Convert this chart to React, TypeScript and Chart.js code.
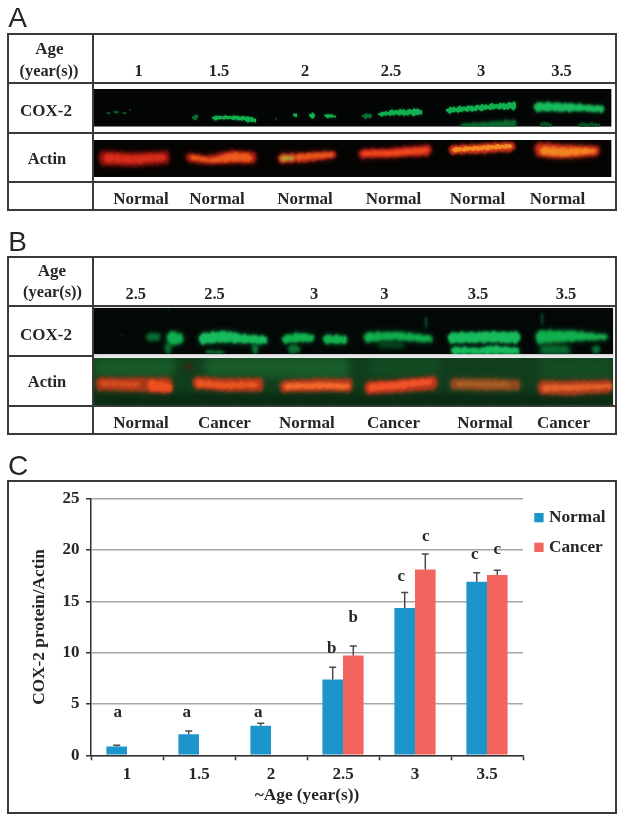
import React, { useEffect, useRef } from "react";
import { Chart, registerables } from "chart.js";

Chart.register(...registerables);

// ---- panel C data ----
const categories = ["1", "1.5", "2", "2.5", "3", "3.5"];
const normalValues = [0.86, 2.06, 2.89, 7.38, 14.35, 16.92];
const cancerValues = [null, null, null, 9.73, 18.1, 17.56];
const normalUpper = [0.97, 2.36, 3.12, 8.59, 15.87, 17.78];
const cancerUpper = [null, null, null, 10.65, 19.62, 18.03];
const normalLetters = ["a", "a", "a", "b", "c", "c"];
const cancerLetters = [null, null, null, "b", "c", "c"];
const normalLetterHeights = [4.15, 4.15, 4.15, 10.4, 17.45, 19.6];
const cancerLetterHeights = [null, null, null, 13.4, 21.3, 20.0];
const normalLetterShift = [1, -2, -2.5, -1, -3.5, -2];
const cancerLetterShift = [null, null, null, 0, 0.5, 0];

// ---- panels A and B labels ----
const agesA = ["1", "1.5", "2", "2.5", "3", "3.5"];
const groupsA = ["Normal", "Normal", "Normal", "Normal", "Normal", "Normal"];
const agesB = ["2.5", "2.5", "3", "3", "3.5", "3.5"];
const groupsB = ["Normal", "Cancer", "Normal", "Cancer", "Normal", "Cancer"];

const SERIF = '"Liberation Serif", serif';
const INK = "#262626";
const FRAME = "#3a3a3a";
const BLUE = "#1c95cb";
const RED = "#f2655f";

type Pt = [number, number, number];
type Band = { pts: Pt[]; color: string; blur: number };
const g = "#12b04e";
const gDim = "#0b6d31";
const gBright = "#18bb5c";
const gFaint = "#0a5f2b";

const TOOTH = [0.6, -0.8, 1.4, -0.3, 0.9, -1.3, 0.4, 1.7, -0.6, 0.2, -1, 1.1, -0.4, 0.7, -1.5, 0.3];

const bandsAcox: Band[] = [
  { pts: [[106, 112, 114], [110, 112, 114]], color: gFaint, blur: 0.7 },
  { pts: [[113, 111, 113], [119, 111, 113]], color: gFaint, blur: 0.7 },
  { pts: [[122, 112, 114], [126, 112, 114]], color: gFaint, blur: 0.7 },
  { pts: [[129, 109, 111], [132, 109, 111]], color: gFaint, blur: 0.7 },
  { pts: [[192, 116, 120], [198, 114, 119]], color: gDim, blur: 0.8 },
  { pts: [[212, 116, 120], [225, 116, 119], [240, 116, 120], [257, 118, 123]], color: g, blur: 0.8 },
  { pts: [[275, 118, 120], [278, 118, 120]], color: gDim, blur: 0.8 },
  { pts: [[293, 113, 117], [297, 113, 117]], color: g, blur: 0.8 },
  { pts: [[309, 113, 118], [315, 113, 118]], color: g, blur: 0.8 },
  { pts: [[324, 114, 117], [336, 115, 118]], color: g, blur: 0.8 },
  { pts: [[362, 114, 118], [373, 114, 118]], color: gDim, blur: 0.8 },
  { pts: [[378, 113, 116], [395, 110, 115], [423, 109, 115]], color: g, blur: 0.8 },
  { pts: [[446, 108, 113], [470, 106, 111], [495, 104, 109], [517, 102, 109]], color: g, blur: 1 },
  { pts: [[460, 124, 127], [490, 122, 127], [517, 120, 127]], color: gDim, blur: 1.2 },
  { pts: [[534, 103, 111], [560, 103, 111], [585, 105, 111], [604, 106, 112]], color: gBright, blur: 1.1 },
  { pts: [[540, 122, 127], [552, 123, 127]], color: "#084c22", blur: 1 },
  { pts: [[578, 123, 127], [600, 123, 127]], color: "#084c22", blur: 1 },
];

const bandsAact: Band[] = [
  { pts: [[99, 151, 165], [135, 153, 166], [170, 151, 163]], color: "#8a120e", blur: 2 },
  { pts: [[104, 154, 162], [135, 156, 163], [166, 154, 160]], color: "#d62c1a", blur: 1.6 },
  { pts: [[186, 153, 161], [205, 156, 164], [232, 151, 163], [256, 152, 163]], color: "#a81c12", blur: 1.8 },
  { pts: [[190, 155, 159], [210, 159, 162], [232, 153, 161], [252, 154, 161]], color: "#ec5a1c", blur: 1.2 },
  { pts: [[278, 154, 163], [305, 153, 162], [336, 151, 158]], color: "#b3241a", blur: 1.7 },
  { pts: [[295, 155, 160], [334, 153, 156]], color: "#e85a1a", blur: 1.2 },
  { pts: [[280, 156, 161], [295, 156, 160]], color: "#b8962e", blur: 1.3 },
  { pts: [[359, 150, 158], [390, 149, 157], [431, 145, 155]], color: "#c7261b", blur: 1.8 },
  { pts: [[362, 152, 155], [395, 151, 155], [429, 148, 152]], color: "#ef4a1c", blur: 1.2 },
  { pts: [[449, 146, 154], [480, 144, 153], [515, 142, 151]], color: "#c9301a", blur: 1.5 },
  { pts: [[452, 148, 152], [480, 146, 150], [512, 144, 148]], color: "#f58a22", blur: 1 },
  { pts: [[535, 143, 155], [552, 144, 158], [580, 146, 157], [600, 146, 155]], color: "#c9291a", blur: 2 },
  { pts: [[540, 147, 154], [560, 148, 156], [596, 149, 153]], color: "#f2841f", blur: 1.6 },
];

const bandsBcox: Band[] = [
  { pts: [[146, 334, 340], [160, 333, 341]], color: gDim, blur: 1.2 },
  { pts: [[167, 332, 344], [175, 332, 345], [184, 336, 342]], color: g, blur: 1.2 },
  { pts: [[165, 342, 354], [171, 342, 354]], color: gDim, blur: 1.2 },
  { pts: [[199, 334, 344], [225, 331, 342], [245, 335, 343], [267, 336, 344]], color: gBright, blur: 1 },
  { pts: [[205, 350, 353], [225, 351, 354]], color: gDim, blur: 1 },
  { pts: [[252, 343, 354], [258, 343, 354]], color: gDim, blur: 1 },
  { pts: [[282, 336, 343], [300, 333, 342], [315, 335, 341]], color: g, blur: 1 },
  { pts: [[288, 345, 353], [300, 345, 353]], color: gDim, blur: 1 },
  { pts: [[323, 335, 343], [348, 336, 344]], color: g, blur: 1 },
  { pts: [[364, 333, 342], [395, 332, 340], [433, 336, 342]], color: g, blur: 1.2 },
  { pts: [[378, 342, 347], [405, 343, 348]], color: "#084c22", blur: 1.5 },
  { pts: [[448, 333, 343], [485, 332, 342], [520, 332, 343]], color: gBright, blur: 0.9 },
  { pts: [[451, 347, 354], [480, 348, 354], [492, 346, 354], [520, 348, 354]], color: gBright, blur: 1 },
  { pts: [[536, 331, 344], [570, 331, 341], [608, 335, 339]], color: g, blur: 1.1 },
  { pts: [[540, 345, 354], [570, 346, 354]], color: gDim, blur: 1.6 },
  { pts: [[592, 346, 353], [600, 346, 353]], color: gDim, blur: 1.2 },
  { pts: [[120, 335, 336], [124, 335, 336]], color: gFaint, blur: 0.8 },
  { pts: [[425, 312, 333], [428, 312, 333]], color: "#0a4a24", blur: 0.8 },
  { pts: [[541, 308, 330], [544, 308, 330]], color: "#0a4a24", blur: 0.8 },
  { pts: [[168, 308, 312], [171, 308, 312]], color: "#0a4a24", blur: 0.8 },
];

const bandsBact: Band[] = [
  { pts: [[96, 378, 390], [135, 378, 391], [173, 378, 393]], color: "#a7391a", blur: 2 },
  { pts: [[100, 381, 386], [140, 382, 387]], color: "#d44a1e", blur: 1.4 },
  { pts: [[148, 380, 390], [172, 384, 392]], color: "#ee4f20", blur: 1.6 },
  { pts: [[193, 377, 388], [230, 379, 391], [263, 378, 391]], color: "#b53a1a", blur: 1.8 },
  { pts: [[196, 380, 386], [225, 383, 388], [258, 382, 387]], color: "#ea5520", blur: 1.3 },
  { pts: [[280, 381, 392], [315, 379, 391], [353, 379, 391]], color: "#b0391a", blur: 1.8 },
  { pts: [[284, 384, 389], [320, 383, 388], [350, 384, 389]], color: "#f2692a", blur: 1.3 },
  { pts: [[365, 382, 394], [400, 380, 392], [437, 376, 389]], color: "#b8351a", blur: 1.8 },
  { pts: [[368, 385, 391], [400, 382, 388], [433, 379, 384]], color: "#f2522a", blur: 1.3 },
  { pts: [[450, 379, 389], [485, 379, 390], [520, 380, 390]], color: "#8c4a20", blur: 2 },
  { pts: [[456, 382, 386], [510, 383, 387]], color: "#a85f28", blur: 1.5 },
  { pts: [[538, 381, 394], [570, 381, 395], [613, 380, 392]], color: "#a83a1c", blur: 2 },
  { pts: [[542, 385, 391], [575, 385, 390], [612, 384, 388]], color: "#e2602a", blur: 1.4 },
];

const bgPatchesB: Band[] = [
  { pts: [[94, 358, 376], [175, 358, 376]], color: "#175a28", blur: 5 },
  { pts: [[205, 358, 376], [350, 358, 378]], color: "#185c2a", blur: 5 },
  { pts: [[370, 358, 376], [440, 358, 376]], color: "#134a22", blur: 5 },
  { pts: [[540, 358, 378], [613, 358, 378]], color: "#144c23", blur: 5 },
  { pts: [[94, 394, 406], [613, 394, 406]], color: "#0b2c14", blur: 3 },
  { pts: [[184, 364, 369], [192, 364, 369]], color: "#3a2a12", blur: 2 },
];

// Turns a band outline into a jagged, tapered edge sampled every 2px.
function outline(pts: Pt[]) {
  const top: [number, number][] = [];
  const bot: [number, number][] = [];
  const x0 = pts[0][0];
  const x1 = pts[pts.length - 1][0];
  let n = 0;
  for (let x = x0; x <= x1; x += 2, n++) {
    let k = 0;
    while (k < pts.length - 2 && x > pts[k + 1][0]) k++;
    const a = pts[k];
    const b = pts[k + 1];
    const t = (x - a[0]) / (b[0] - a[0] || 1);
    const yt = a[1] + (b[1] - a[1]) * t;
    const yb = a[2] + (b[2] - a[2]) * t;
    const mid = (yt + yb) / 2;
    const end = Math.min(x - x0, x1 - x);
    const taper = Math.min(1, 0.45 + end / 5);
    const amp = Math.min(1, (yb - yt) / 6);
    top.push([x, mid - (mid - yt) * taper - TOOTH[n % 16] * amp]);
    bot.push([x, mid + (yb - mid) * taper + TOOTH[(n + 5) % 16] * amp]);
  }
  return { top, bot };
}

function drawBands(ctx: CanvasRenderingContext2D, rect: number[], bg: string, bands: Band[], soft = 1) {
  const [x, y, w, h] = rect;
  ctx.save();
  ctx.beginPath();
  ctx.rect(x, y, w, h);
  ctx.clip();
  ctx.fillStyle = bg;
  ctx.fillRect(x, y, w, h);
  for (const b of bands) {
    const { top, bot } = outline(b.pts);
    const shape = () => {
      ctx.beginPath();
      top.forEach((p, i) => (i ? ctx.lineTo(p[0], p[1]) : ctx.moveTo(p[0], p[1])));
      [...bot].reverse().forEach((p) => ctx.lineTo(p[0], p[1]));
      ctx.closePath();
    };
    ctx.fillStyle = b.color;
    ctx.filter = `blur(${b.blur * 1.8 * soft}px)`;
    ctx.globalAlpha = 0.5;
    shape();
    ctx.fill();
    ctx.filter = `blur(${b.blur * 0.75 * soft}px)`;
    ctx.globalAlpha = 1;
    shape();
    ctx.fill();
  }
  ctx.restore();
}

function Txt({ x, y, s, size = 17, font = SERIF, weight = 700 }: any) {
  return (
    <div
      style={{
        position: "absolute",
        left: x,
        top: y,
        transform: "translate(-50%,-50%)",
        font: `${weight} ${size}px ${font}`,
        color: INK,
        whiteSpace: "nowrap",
        lineHeight: 1,
      }}
    >
      {s}
    </div>
  );
}

function Box({ l, t, w, h, c = FRAME }: any) {
  return <div style={{ position: "absolute", left: l, top: t, width: w, height: h, background: c }} />;
}

function Frame({ x0, x1, y0, y1 }: any) {
  return (
    <>
      <Box l={x0 - 1} t={y0 - 1} w={x1 - x0 + 2} h={2} />
      <Box l={x0 - 1} t={y1 - 1} w={x1 - x0 + 2} h={2} />
      <Box l={x0 - 1} t={y0 - 1} w={2} h={y1 - y0 + 2} />
      <Box l={x1 - 1} t={y0 - 1} w={2} h={y1 - y0 + 2} />
    </>
  );
}

const errorsAndLetters = {
  id: "errorsAndLetters",
  afterDatasetsDraw(chart: any) {
    const { ctx, scales } = chart;
    const y = scales.y;
    const sets = [
      { upper: normalUpper, letters: normalLetters, h: normalLetterHeights, dx: normalLetterShift },
      { upper: cancerUpper, letters: cancerLetters, h: cancerLetterHeights, dx: cancerLetterShift },
    ];
    sets.forEach((s, i) => {
      const meta = chart.getDatasetMeta(i);
      s.upper.forEach((u, j) => {
        if (u == null) return;
        const el = meta.data[j];
        const top = y.getPixelForValue(u);
        ctx.save();
        ctx.strokeStyle = "#4a4a4a";
        ctx.lineWidth = 1.5;
        ctx.beginPath();
        ctx.moveTo(el.x, el.y);
        ctx.lineTo(el.x, top);
        ctx.moveTo(el.x - 3.5, top);
        ctx.lineTo(el.x + 3.5, top);
        ctx.stroke();
        ctx.fillStyle = INK;
        ctx.font = `700 17px ${SERIF}`;
        ctx.textAlign = "center";
        ctx.textBaseline = "middle";
        ctx.fillText(s.letters[j] as string, el.x + (s.dx[j] as number), y.getPixelForValue(s.h[j] as number));
        ctx.restore();
      });
    });
  },
};

const sideLegend = {
  id: "sideLegend",
  afterDraw(chart: any) {
    const { ctx } = chart;
    chart.data.datasets.forEach((d: any, i: number) => {
      const top = 31 + i * 29.7;
      ctx.save();
      ctx.fillStyle = d.backgroundColor;
      ctx.fillRect(525.3, top, 9.3, 9.3);
      ctx.fillStyle = INK;
      ctx.font = `700 17.3px ${SERIF}`;
      ctx.textBaseline = "middle";
      ctx.fillText(d.label, 540, top + 5);
      ctx.restore();
    });
  },
};

export default function App() {
  const chartRef = useRef<HTMLCanvasElement>(null);
  const blotRef = useRef<HTMLCanvasElement>(null);

  useEffect(() => {
    const b = blotRef.current!.getContext("2d")!;
    drawBands(b, [93, 89, 518.6, 37.7], "#040605", bandsAcox);
    drawBands(b, [93, 140, 518.6, 37], "#040403", bandsAact);
    drawBands(b, [94, 307, 519, 47.5], "#030706", bandsBcox, 1.7);
    drawBands(b, [94, 358, 519, 47], "#113e1d", [...bgPatchesB, ...bandsBact]);
    b.fillStyle = "#e4e4e4";
    b.fillRect(94, 307, 519, 1);
    b.fillRect(94, 354.5, 520, 3);
    b.fillRect(613, 306, 1.2, 100);

    const chart = new Chart(chartRef.current!, {
      type: "bar",
      data: {
        labels: categories,
        datasets: [
          { label: "Normal", data: normalValues as any, backgroundColor: BLUE, categoryPercentage: 0.572, barPercentage: 1 },
          { label: "Cancer", data: cancerValues as any, backgroundColor: RED, categoryPercentage: 0.572, barPercentage: 1 },
        ],
      },
      options: {
        responsive: false,
        animation: false,
        layout: { padding: { top: 11, right: 92, left: 0, bottom: 0 } },
        plugins: { legend: { display: false }, tooltip: { enabled: false } },
        scales: {
          x: {
            grid: { drawOnChartArea: false, drawTicks: true, tickLength: 5, tickColor: "#333", tickWidth: 1.5 },
            border: { color: "#2f2f2f", width: 1.5 },
            ticks: { color: INK, font: { family: SERIF, weight: "bold", size: 17 }, padding: 4, maxRotation: 0 },
            title: {
              display: true,
              text: "~Age (year(s))",
              color: INK,
              font: { family: SERIF, weight: "bold", size: 17.3 },
              padding: { top: 0, bottom: 6 },
            },
            afterFit: (s: any) => {
              s.height = 56.7;
            },
          },
          y: {
            min: 0,
            max: 25,
            grid: { color: "#a6a6a6", lineWidth: 1.5, tickColor: "#333", tickLength: 5, tickWidth: 1.5 },
            border: { color: "#2f2f2f", width: 1.5 },
            ticks: { stepSize: 5, color: INK, font: { family: SERIF, weight: "bold", size: 17 }, padding: 6.5 },
            title: {
              display: true,
              text: "COX-2 protein/Actin",
              color: INK,
              font: { family: SERIF, weight: "bold", size: 17.3 },
              padding: { top: 20, bottom: 0 },
            },
            afterFit: (s: any) => {
              s.width = 82;
            },
          },
        },
      },
      plugins: [errorsAndLetters, sideLegend],
    } as any);
    return () => chart.destroy();
  }, []);

  const xAgesA = [138.5, 219, 305, 391, 481, 561.5];
  const xGroupsA = [141, 217, 305, 393.5, 477.5, 557.5];
  const xAgesB = [135.7, 214.5, 314, 384.4, 478, 566];
  const xGroupsB = [141, 224.4, 306.8, 393.5, 485, 563.5];

  return (
    <div style={{ position: "absolute", left: 0, top: 0, width: 624, height: 821, background: "#fff", overflow: "hidden" }}>
      <canvas ref={blotRef} width={624} height={440} style={{ position: "absolute", left: 0, top: 0 }} />

      <Txt x={17.5} y={18} s="A" size={28} font='"Liberation Sans", sans-serif' weight={400} />
      <Frame x0={8} x1={616} y0={33.5} y1={210} />
      <Box l={92} t={33} w={2} h={177} />
      <Box l={8} t={82} w={608} h={2} />
      <Box l={8} t={131.5} w={608} h={2} />
      <Box l={8} t={181} w={608} h={2} />
      <Txt x={49.3} y={48} s="Age" />
      <Txt x={49} y={70.7} s="(year(s))" size={16.3} />
      <Txt x={46} y={110} s="COX-2" />
      <Txt x={47} y={159} s="Actin" size={16.5} />
      {agesA.map((s, i) => <Txt key={i} x={xAgesA[i]} y={71} s={s} size={16.5} />)}
      {groupsA.map((s, i) => <Txt key={i} x={xGroupsA[i]} y={198} s={s} />)}

      <Txt x={17.5} y={242} s="B" size={28} font='"Liberation Sans", sans-serif' weight={400} />
      <Frame x0={8} x1={616} y0={257} y1={434} />
      <Box l={92} t={256} w={2} h={178} />
      <Box l={8} t={305} w={608} h={2} />
      <Box l={8} t={354.5} w={85} h={2} />
      <Box l={8} t={405} w={608} h={2} />
      <Txt x={52} y={270} s="Age" />
      <Txt x={52.5} y={291.7} s="(year(s))" size={16.3} />
      <Txt x={46} y={334} s="COX-2" />
      <Txt x={47} y={382} s="Actin" size={16.5} />
      {agesB.map((s, i) => <Txt key={i} x={xAgesB[i]} y={294} s={s} size={16.5} />)}
      {groupsB.map((s, i) => <Txt key={i} x={xGroupsB[i]} y={421.7} s={s} />)}

      <Txt x={18} y={466} s="C" size={28} font='"Liberation Sans", sans-serif' weight={400} />
      <Frame x0={8} x1={615.6} y0={481} y1={812.7} />
      <canvas ref={chartRef} width={606} height={330} style={{ position: "absolute", left: 9, top: 482 }} />
    </div>
  );
}
